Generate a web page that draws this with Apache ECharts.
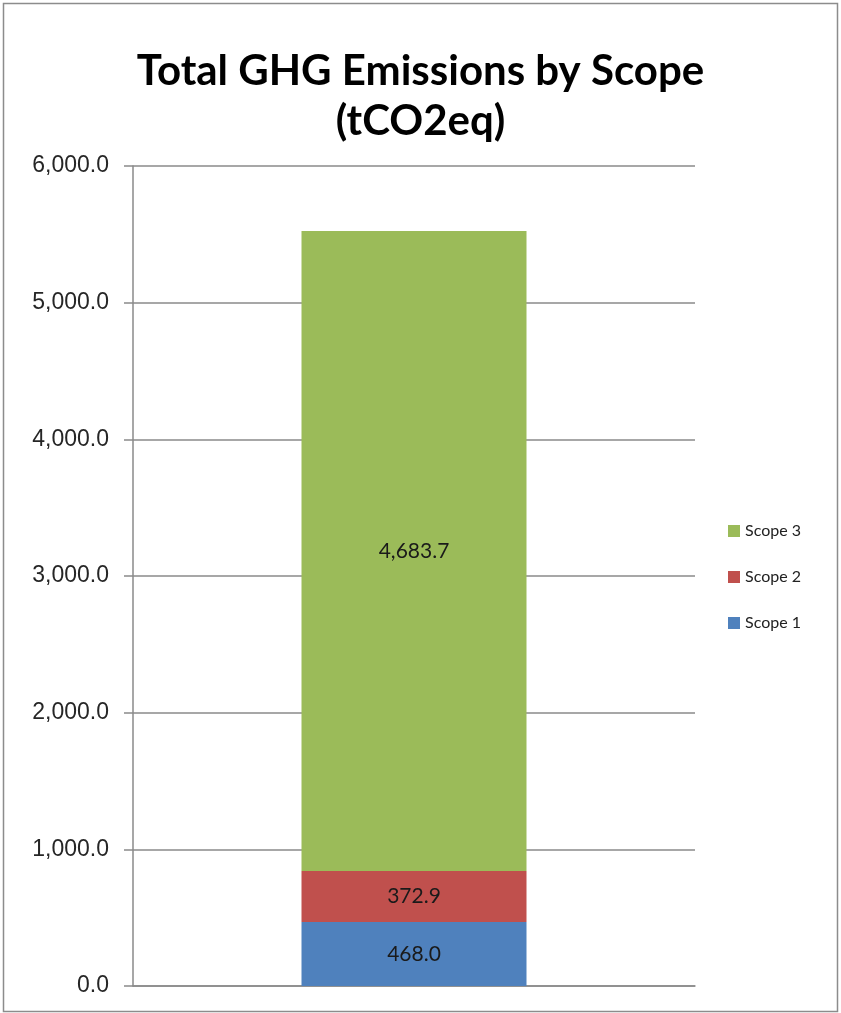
<!DOCTYPE html>
<html>
<head>
<meta charset="utf-8">
<script src="https://cdn.jsdelivr.net/npm/echarts@6/dist/echarts.min.js"></script>
<style>
  html, body { margin: 0; padding: 0; background: #fff; }
  #chart { width: 841px; height: 1013px; }
</style>
</head>
<body>
<div id="chart"></div>
<script>
// Emissions by scope, tonnes CO2 equivalent
const categories = ['Total'];
const scope1 = [468.0];
const scope2 = [372.9];
const scope3 = [4683.7];
const seriesNames = ['Scope 1', 'Scope 2', 'Scope 3'];
const colors = ['#4f81bd', '#c0504d', '#9bbb59'];

const fmt = v => v.toLocaleString('en-US', { minimumFractionDigits: 1, maximumFractionDigits: 1 });

const chart = echarts.init(document.getElementById('chart'));

const makeSeries = (name, data, color) => ({
  name,
  type: 'bar',
  stack: 'total',
  data,
  barWidth: 225,
  itemStyle: { color },
  label: {
    show: true,
    position: 'inside',
    formatter: p => fmt(p.value),
    color: '#1a1a1a',
    fontFamily: 'Lato',
    fontSize: 21
  }
});

chart.setOption({
  animation: false,
  graphic: [{
    type: 'rect',
    shape: { x: 3.5, y: 3.5, width: 834, height: 1008 },
    style: { fill: 'none', stroke: '#8c8c8c', lineWidth: 1.5 }
  }],
  title: {
    text: 'Total GHG Emissions by Scope\n(tCO2eq)',
    left: 'center',
    top: 41,
    textStyle: {
      fontFamily: 'Lato',
      fontWeight: 'bold',
      fontSize: 42,
      lineHeight: 50,
      color: '#000'
    }
  },
  legend: {
    orient: 'vertical',
    left: 723,
    top: 518,
    itemWidth: 12,
    itemHeight: 12,
    itemGap: 30,
    icon: 'rect',
    data: ['Scope 3', 'Scope 2', 'Scope 1'],
    textStyle: { fontFamily: 'Lato', fontSize: 16, lineHeight: 16, color: '#222' }
  },
  grid: { left: 133, right: 146, top: 166, bottom: 27, containLabel: false },
  xAxis: {
    type: 'category',
    data: categories,
    axisLine: { show: true, lineStyle: { color: '#8a8a8a', width: 1.5 } },
    axisTick: { show: false },
    axisLabel: { show: false }
  },
  yAxis: {
    type: 'value',
    min: 0,
    max: 6000,
    interval: 1000,
    axisLine: { show: true, lineStyle: { color: '#8a8a8a', width: 1.5 } },
    axisTick: { show: true, length: 9, lineStyle: { color: '#8a8a8a', width: 1.5 } },
    splitLine: { show: true, lineStyle: { color: '#8a8a8a', width: 1.5 } },
    axisLabel: {
      formatter: v => fmt(v),
      margin: 24,
      fontFamily: 'Liberation Sans',
      fontSize: 23,
      color: '#262626'
    }
  },
  series: [
    makeSeries(seriesNames[0], scope1, colors[0]),
    makeSeries(seriesNames[1], scope2, colors[1]),
    makeSeries(seriesNames[2], scope3, colors[2])
  ]
});
</script>
</body>
</html>
